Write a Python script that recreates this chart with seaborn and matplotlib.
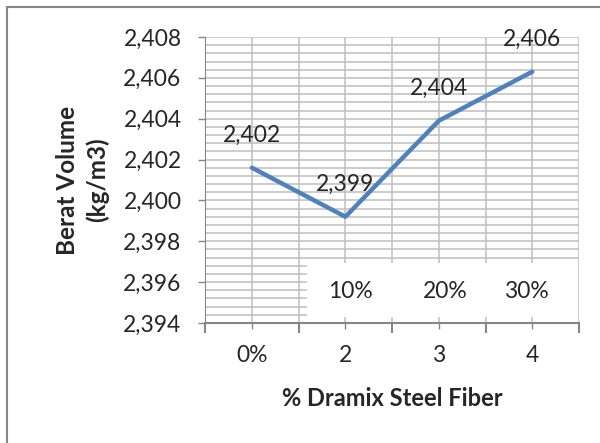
import numpy as np
import pandas as pd
import matplotlib
matplotlib.use('Agg')
from matplotlib import pyplot as plt
from matplotlib.patches import Rectangle
from matplotlib.ticker import MultipleLocator, FuncFormatter, FixedLocator
import seaborn as sns

# data
kategori = ['0%', '2', '3', '4']
berat_volume = [2.4016, 2.3992, 2.4039, 2.4063]
label_data = ['2,402', '2,399', '2,404', '2,406']
label_box = ['10%', '20%', '30%']

df = pd.DataFrame({'kategori': kategori, 'berat': berat_volume})

sns.set_style('white')
plt.rcParams['font.family'] = ['Lato', 'DejaVu Sans']

fig = plt.figure(figsize=(6, 4.43), dpi=100)
ax = fig.add_axes([0.342, 0.271, 0.623, 0.6455])

sns.lineplot(x='kategori', y='berat', data=df, color='#4F81BD', linewidth=3.2,
             sort=False, ax=ax)

ax.set_xlim(-0.5, 3.5)
ax.set_ylim(2.394, 2.408)

fs = 16.5

# sumbu y
ax.yaxis.set_major_locator(MultipleLocator(0.002))
ax.yaxis.set_minor_locator(MultipleLocator(0.0004))
ax.yaxis.set_major_formatter(FuncFormatter(lambda v, p: f'{v:.3f}'.replace('.', ',')))
ax.tick_params(axis='y', which='major', length=5, width=1, color='#868686',
               labelsize=fs, pad=12, left=True)
ax.tick_params(axis='y', which='minor', length=0)

# sumbu x
ax.xaxis.set_major_locator(FixedLocator([-0.5, 0.5, 1.5, 2.5, 3.5]))
ax.xaxis.set_minor_locator(FixedLocator([0, 1, 2, 3]))
ax.xaxis.set_major_formatter(FuncFormatter(lambda v, p: ''))
ax.set_xticks([0, 1, 2, 3], kategori, minor=True)
ax.tick_params(axis='x', which='major', length=7, width=1.5, color='#868686', bottom=True)
ax.tick_params(axis='x', which='minor', length=4, width=1, color='#868686',
               labelsize=fs, pad=12, bottom=True)

ax.grid(True, which='both', color='#BEBEBE', linewidth=1.1)
ax.set_axisbelow(True)
for s in ['top', 'right']:
    ax.spines[s].set_visible(False)
ax.spines['left'].set_color('#868686')
ax.spines['bottom'].set_color('#868686')
ax.spines['bottom'].set_linewidth(1.5)

for xi, yi, t in zip(range(len(kategori)), berat_volume, label_data):
    ax.annotate(t, (xi, yi), xytext=(0, 23), textcoords='offset points',
                ha='center', va='center', fontsize=fs)

# kotak putih dengan label persen
ax.add_patch(Rectangle((0.273, 0.021), 0.724, 0.19, transform=ax.transAxes,
                       facecolor='white', edgecolor='none', zorder=3))
for xb, t in zip([1.06, 2.07, 2.94], label_box):
    ax.text(xb, 0.11, t, transform=ax.get_xaxis_transform(), ha='center',
            va='center', fontsize=fs, zorder=4)

ax.set_xlabel('% Dramix Steel Fiber', fontsize=17, fontweight='bold', labelpad=15)
ax.set_ylabel('Berat Volume\n(kg/m3)', fontsize=17.5, fontweight='bold', labelpad=10,
              linespacing=1.35)

# bingkai luar
fig.add_artist(plt.Line2D([6.5 / 600, 6.5 / 600], [0, 1 - 6.5 / 443],
                          transform=fig.transFigure, color='#868686', linewidth=1.5))
fig.add_artist(plt.Line2D([6.5 / 600, 1], [1 - 6.5 / 443, 1 - 6.5 / 443],
                          transform=fig.transFigure, color='#868686', linewidth=1.5))

fig.savefig('out.png', dpi=100)
